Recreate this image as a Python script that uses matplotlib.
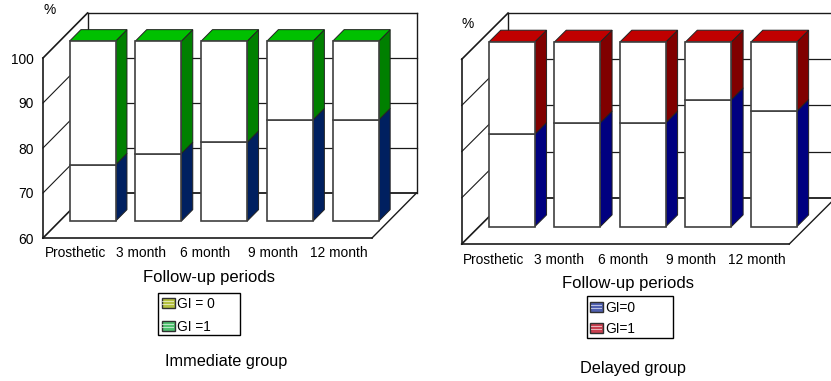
import matplotlib
matplotlib.use('Agg')
import matplotlib.pyplot as plt
from matplotlib.patches import Patch, Rectangle
from matplotlib.legend_handler import HandlerBase
from matplotlib.transforms import Affine2D

plt.rcParams['font.family'] = ['Liberation Sans', 'DejaVu Sans']

W, H = 831, 381

periods = ['Prosthetic', '3 month', '6 month', '9 month', '12 month']
y_ticks = [60, 70, 80, 90, 100]

# share of GI = 0 in each group, GI = 1 makes up the rest to 100
immediate_gi0 = [72.5, 75, 77.5, 82.5, 82.5]
immediate_gi1 = [27.5, 25, 22.5, 17.5, 17.5]
delayed_gi0 = [80, 82.5, 82.5, 87.5, 85]
delayed_gi1 = [20, 17.5, 17.5, 12.5, 15]


class StripeHandler(HandlerBase):
    def create_artists(self, legend, orig, xd, yd, width, height, fontsize, trans):
        arts = [Rectangle((xd, yd), width, height, fc=orig.get_facecolor(),
                          ec='#303030', lw=1.0, transform=trans)]
        for k in (1, 2):
            arts.append(Rectangle((xd + 0.5, yd + height * k / 3 - 0.35), width - 1, 0.7,
                                  fc='white', ec='none', alpha=0.6, transform=trans))
        return arts


def px_axes(left, top, right, bottom):
    return fig.add_axes([left / W, 1 - bottom / H, (right - left) / W, (bottom - top) / H])


def draw_panel(ax, gi0, gi1, depth_px, top_col, upper_col, lower_col, show_labels, xpad):
    ax.set_xlim(-0.5, 4.5)
    ax.set_ylim(60, 100)
    ax.patch.set_visible(False)
    for s in ax.spines.values():
        s.set_visible(False)

    bbox_w = ax.get_position().width * W
    kx = depth_px / (bbox_w / 5)   # one full depth in category units
    ky = 10                        # one full depth in percent units

    def line(xs, vs, ds, lw=0.9, col='#1a1a1a', z=1):
        ax.plot([x + d * kx for x, d in zip(xs, ds)], [v + d * ky for v, d in zip(vs, ds)],
                color=col, lw=lw, clip_on=False, zorder=z, solid_capstyle='projecting')

    # back wall, side wall, floor
    for v in y_ticks:
        lw = 1.3 if v == 60 else 0.9
        if v < 100:
            line([-0.5, 4.5], [v, v], [1, 1], lw=lw)
        line([-0.5, -0.5], [v, v], [0, 1], lw=1.2 if v in (60, 100) else 0.8)
    line([-0.5, -0.5], [60, 100], [1, 1], lw=1.0)
    line([-0.5, -0.5], [60, 100], [0, 0], lw=1.2)
    line([-0.5, 4.5], [60, 60], [0, 0], lw=1.2)
    line([4.5, 4.5], [60, 60], [0, 1], lw=1.0)
    line([4.5, 4.5], [60, 100], [1, 1], lw=1.0)
    line([-0.5, 4.5], [100, 100], [1, 1], lw=1.0)

    d0, d1 = 0.375, 0.63
    half = 0.35
    for i, (a, b) in enumerate(zip(gi0, gi1)):
        xl = i - half + d0 * kx
        xr = i + half + d0 * kx
        xb = i + half + d1 * kx
        base = 60 + d0 * ky
        back = 60 + d1 * ky
        top = a + b
        ax.fill([xr, xb, xb, xr], [base, back, back + a - 60, base + a - 60],
                fc=lower_col, ec='#222222', lw=0.7, zorder=3, clip_on=False)
        ax.fill([xr, xb, xb, xr], [base + a - 60, back + a - 60, back + top - 60, base + top - 60],
                fc=upper_col, ec='#222222', lw=0.7, zorder=3, clip_on=False)
        ax.fill([xl, xr, xb, xb - (xr - xl)], [base + top - 60, base + top - 60, back + top - 60, back + top - 60],
                fc=top_col, ec='#222222', lw=0.7, zorder=3, clip_on=False)
        ax.bar(xl, a - 60, width=xr - xl, bottom=base, align='edge', fc='white',
               ec='#404040', lw=1.2, zorder=4, clip_on=False)
        ax.bar(xl, b, width=xr - xl, bottom=base + a - 60, align='edge', fc='white',
               ec='#404040', lw=1.2, zorder=4, clip_on=False)

    ax.set_xticks(range(5))
    ax.set_xticklabels(periods, fontsize=9.9)
    ax.tick_params(axis='x', length=0, pad=xpad)
    for lab, dx in zip(ax.get_xticklabels(), [-0.5, -1, -2.5, -0.5, 0]):
        lab.set_transform(lab.get_transform() + Affine2D().translate(dx, 0))
    ax.set_yticks(y_ticks)
    ax.set_yticklabels(y_ticks if show_labels else [], fontsize=9.9)
    ax.tick_params(axis='y', length=0, pad=6.5)


fig = plt.figure(figsize=(W / 100, H / 100), dpi=100)

ax1 = px_axes(43, 58, 372, 238)
draw_panel(ax1, immediate_gi0, immediate_gi1, 44.5, '#00C000', '#008000', '#002060', True, 6)
ax2 = px_axes(461.7, 59.3, 789.3, 244)
draw_panel(ax2, delayed_gi0, delayed_gi1, 46.3, '#C00000', '#800000', '#000080', False, 6.7)

fig.text(50 / W, 1 - 10 / H, '%', fontsize=9.9, ha='center', va='center')
fig.text(468 / W, 1 - 24 / H, '%', fontsize=9.9, ha='center', va='center')
fig.text(209 / W, 1 - 277.5 / H, 'Follow-up periods', fontsize=12, ha='center', va='center')
fig.text(627.5 / W, 1 - 283.5 / H, 'Follow-up periods', fontsize=12, ha='center', va='center')
fig.text(226 / W, 1 - 361.5 / H, 'Immediate group', fontsize=11.7, ha='center', va='center')
fig.text(633 / W, 1 - 368 / H, 'Delayed group', fontsize=11.7, ha='center', va='center')


def add_legend(labels, cols, box, anchor, spacing):
    left, top, right, bottom = box
    fig.add_artist(Rectangle((left / W, 1 - bottom / H), (right - left) / W, (bottom - top) / H,
                             fc='white', ec='black', lw=1.0, transform=fig.transFigure))
    handles = [Patch(fc=c) for c in cols]
    fig.legend(handles, labels, loc='upper left',
               bbox_to_anchor=(anchor[0] / W, 1 - anchor[1] / H),
               bbox_transform=fig.transFigure, borderaxespad=0, fontsize=9.9,
               frameon=False, handlelength=0.95, handleheight=0.72,
               handletextpad=0.15, labelspacing=spacing, borderpad=0,
               handler_map={Patch: StripeHandler()})


add_legend(['GI = 0', 'GI =1'], ['#B4C040', '#50C070'], (157.5, 292.7, 239.5, 334.5), (161.7, 297), 0.64)
add_legend(['GI=0', 'GI=1'], ['#5060B0', '#C84050'], (586.7, 296, 672.5, 337.7), (590, 301), 0.5)

fig.savefig('out.png', dpi=100)
